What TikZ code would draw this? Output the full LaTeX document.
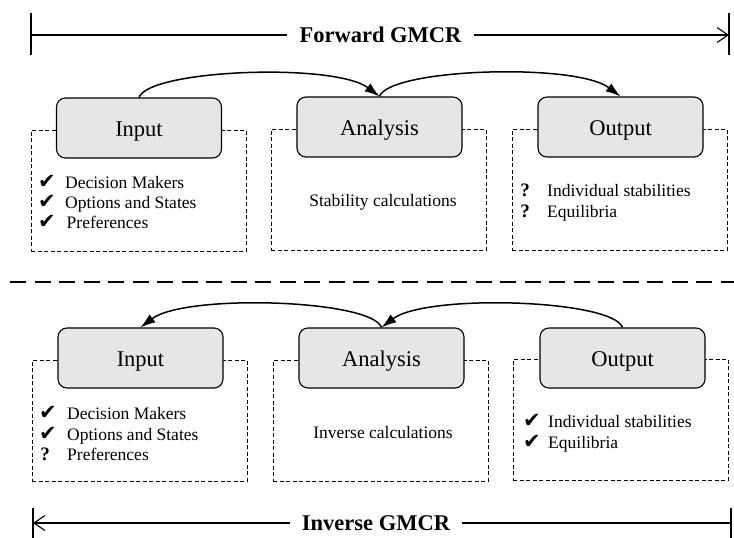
\documentclass[tikz,border=0pt]{standalone}
\usepackage{fontspec}
\setmainfont{Liberation Serif}
\newfontfamily\symfont{DejaVu Sans}
\usetikzlibrary{arrows.meta}
\definecolor{stagegray}{RGB}{230,230,230}

\begin{document}
\begin{tikzpicture}[x=1pt,y=-1pt,
  stage/.style={draw, line width=1.1pt, rounded corners=9pt, fill=stagegray,
    minimum width=165pt, minimum height=60pt, inner sep=0pt,
    text height=16pt, text depth=0pt, font=\fontsize{22.5}{27}\selectfont},
  panel/.style={draw, line width=0.8pt, dash pattern=on 4pt off 2.5pt,
    minimum width=215pt, minimum height=121pt, inner sep=0pt, anchor=north west},
  item/.style={anchor=base west, inner sep=0pt, font=\fontsize{17.5}{21}\selectfont},
  tick/.style={anchor=base, inner sep=0pt, font=\symfont\fontsize{21}{24}\selectfont},
  qmark/.style={anchor=base, inner sep=0pt, font=\fontsize{19}{22}\selectfont\bfseries},
  heading/.style={inner xsep=12pt, inner ysep=0pt, font=\fontsize{22.5}{27}\selectfont\bfseries},
  flow/.style={line width=1.5pt, -{Latex[length=15pt,width=10pt]}},
  span/.style={line width=1.1pt},
  bar/.style={line width=1.3pt}
]
\useasboundingbox (0,0) rectangle (734,538);

% ---------------- forward direction ----------------
\coordinate (fL) at (31,35);
\coordinate (fR) at (729,35);
\node[heading] (fwd) at (380.5,35) {Forward GMCR};
\draw[bar] ([yshift=-20pt]fL) -- ([yshift=22pt]fL);
\draw[bar] ([yshift=-20pt]fR) -- ([yshift=22pt]fR);
\draw[span] (fwd.west) -- (fL);
\draw[span, -{Straight Barb[length=11pt,width=15pt]}] (fwd.east) -- (fR);

\node[panel] (pin1) at (31,130) {};
\node[panel] (pan1) at (271,129) {};
\node[panel] (pout1) at (512,129) {};

\node[stage] (in1) at (139,128) {Input};
\node[stage] (an1) at (379.5,127) {Analysis};
\node[stage] (out1) at (620.5,127) {Output};

\draw[flow] (in1.north) .. controls +(10,-28) and +(-45,-34) .. (an1.north);
\draw[flow] (an1.north) .. controls +(10,-28) and +(-45,-34) .. (out1.north);

\node[tick] (t11) at (47,188) {✔};
\node[item] (i11) at (65,188) {Decision Makers};
\node[tick] (t12) at (47,208) {✔};
\node[item] (i12) at (65,208) {Options and States};
\node[tick] (t13) at (47,228) {✔};
\node[item] (i13) at (66.5,228) {Preferences};

\node[item, anchor=base] (a1) at (383,206) {Stability calculations};

\node[qmark] (q11) at (525,196) {?};
\node[item] (o11) at (547,196) {Individual stabilities};
\node[qmark] (q12) at (525,217) {?};
\node[item] (o12) at (547,217) {Equilibria};

% ---------------- separator ----------------
\coordinate (sepL) at (10,282);
\coordinate (sepR) at (734,282);
\draw[line width=2.4pt, dash pattern=on 16pt off 8.5pt] (sepL) -- (sepR);

% ---------------- inverse direction ----------------
\node[panel] (pin2) at (32,360) {};
\node[panel] (pan2) at (273,360) {};
\node[panel] (pout2) at (513,359) {};

\node[stage] (in2) at (140.5,358) {Input};
\node[stage] (an2) at (381.5,358) {Analysis};
\node[stage] (out2) at (622.5,358) {Output};

\draw[flow] (out2.north) .. controls +(-10,-28) and +(45,-34) .. (an2.north);
\draw[flow] (an2.north) .. controls +(-10,-28) and +(45,-34) .. (in2.north);

\node[tick] (t21) at (48,419) {✔};
\node[item] (i21) at (67,419) {Decision Makers};
\node[tick] (t22) at (48,440) {✔};
\node[item] (i22) at (67,440) {Options and States};
\node[qmark] (q23) at (45,460) {?};
\node[item] (i23) at (67,460) {Preferences};

\node[item, anchor=base] (a2) at (383,438) {Inverse calculations};

\node[tick] (t24) at (532,427.5) {✔};
\node[item] (o21) at (548,427.5) {Individual stabilities};
\node[tick] (t25) at (532,448) {✔};
\node[item] (o22) at (548,448) {Equilibria};

\coordinate (iL) at (33,523);
\coordinate (iR) at (731,523);
\node[heading] (inv) at (376,523) {Inverse GMCR};
\draw[bar] ([yshift=-30pt]iL) -- ([yshift=15pt]iL);
\draw[bar] ([yshift=-30pt]iR) -- ([yshift=15pt]iR);
\draw[span, -{Straight Barb[length=11pt,width=15pt]}] (inv.west) -- (iL);
\draw[span] (inv.east) -- (iR);
\end{tikzpicture}
\end{document}
